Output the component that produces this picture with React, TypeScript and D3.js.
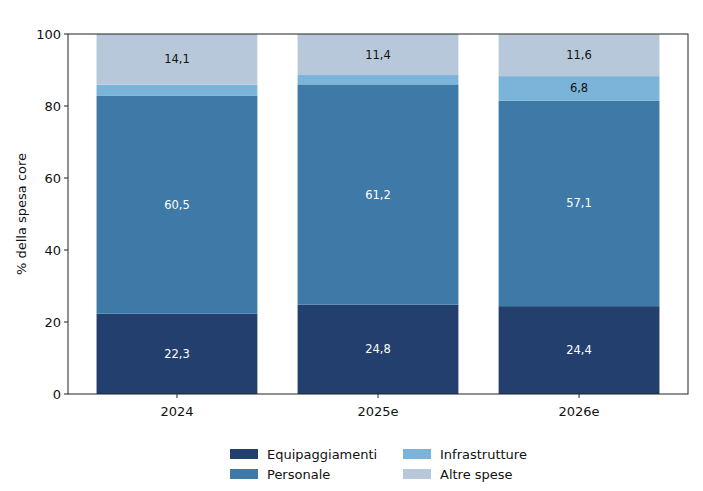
import React from "react";
import * as d3 from "d3";

const categories = ["2024", "2025e", "2026e"];
const seriesNames = ["Equipaggiamenti", "Personale", "Infrastrutture", "Altre spese"];
const equipaggiamenti = [22.3, 24.8, 24.4];
const personale = [60.5, 61.2, 57.1];
const infrastrutture = [3.1, 2.6, 6.8];
const altreSpese = [14.1, 11.4, 11.6];
const colors = ["#223f6d", "#3e79a8", "#7bb4d9", "#b7c8da"];
const labelColors = ["#ffffff", "#ffffff", "#111111", "#111111"];
const yTicks = [0, 20, 40, 60, 80, 100];
const labelThreshold = 4;

const W = 703;
const H = 491;
const m = { left: 68, right: 688, top: 34, bottom: 394 };

export default function App() {
  const series = [equipaggiamenti, personale, infrastrutture, altreSpese];
  const x = d3.scaleLinear().domain([-0.542, 2.542]).range([m.left, m.right]);
  const y = d3.scaleLinear().domain([0, 100]).range([m.bottom, m.top]);
  const barW = x(0.8) - x(0);
  const font = "DejaVu Sans, sans-serif";

  const rects: React.ReactNode[] = [];
  const labels: React.ReactNode[] = [];
  categories.forEach((c, i) => {
    let base = 0;
    series.forEach((s, k) => {
      const v = s[i];
      const y0 = y(base);
      const y1 = y(base + v);
      rects.push(
        <rect key={`r${i}-${k}`} x={x(i) - barW / 2} y={y1} width={barW} height={y0 - y1} fill={colors[k]} />
      );
      if (v >= labelThreshold) {
        labels.push(
          <text key={`l${i}-${k}`} x={x(i)} y={(y0 + y1) / 2} textAnchor="middle" dominantBaseline="central"
            fontSize={11.5} fill={labelColors[k]} fontFamily={font}>
            {v.toFixed(1).replace(".", ",")}
          </text>
        );
      }
      base += v;
    });
  });

  const legendItems = [
    { name: seriesNames[0], color: colors[0], x: 230, y: 454 },
    { name: seriesNames[1], color: colors[1], x: 230, y: 474 },
    { name: seriesNames[2], color: colors[2], x: 403, y: 454 },
    { name: seriesNames[3], color: colors[3], x: 403, y: 474 },
  ];

  return (
    <svg width={W} height={H} style={{ position: "absolute", left: 0, top: 0, background: "#fff" }}>
      <rect x={0} y={0} width={W} height={H} fill="#fff" />
      {rects}
      {labels}
      <rect x={m.left} y={m.top} width={m.right - m.left} height={m.bottom - m.top} fill="none" stroke="#222" strokeWidth={1} />
      {yTicks.map((t) => (
        <g key={t}>
          <line x1={m.left - 4} x2={m.left} y1={y(t)} y2={y(t)} stroke="#222" />
          <text x={m.left - 7} y={y(t)} textAnchor="end" dominantBaseline="central" fontSize={13} fontFamily={font} fill="#111">
            {t}
          </text>
        </g>
      ))}
      {categories.map((c, i) => (
        <g key={c}>
          <line x1={x(i)} x2={x(i)} y1={m.bottom} y2={m.bottom + 4} stroke="#222" />
          <text x={x(i)} y={m.bottom + 17} textAnchor="middle" dominantBaseline="central" fontSize={13} fontFamily={font} fill="#111">
            {c}
          </text>
        </g>
      ))}
      <text transform={`translate(21,${(m.top + m.bottom) / 2}) rotate(-90)`} textAnchor="middle" dominantBaseline="central"
        fontSize={13} fontFamily={font} fill="#111">
        % della spesa core
      </text>
      {legendItems.map((it) => (
        <g key={it.name}>
          <rect x={it.x} y={it.y - 5} width={28} height={10} fill={it.color} />
          <text x={it.x + 37} y={it.y} dominantBaseline="central" fontSize={13} fontFamily={font} fill="#111">
            {it.name}
          </text>
        </g>
      ))}
    </svg>
  );
}
